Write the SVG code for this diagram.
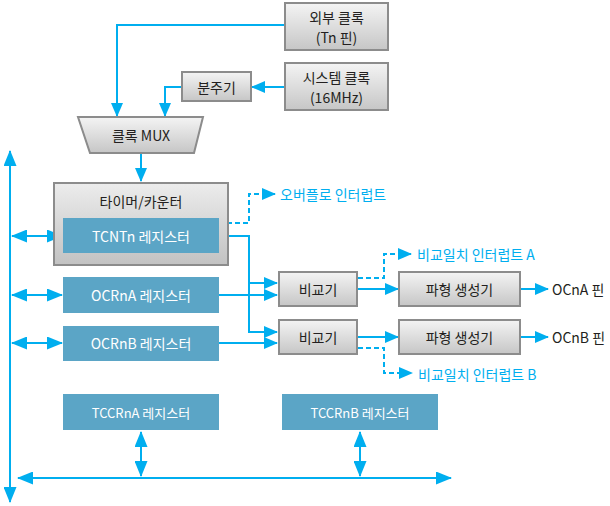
<svg xmlns="http://www.w3.org/2000/svg" width="610" height="506" viewBox="0 0 610 506">
<defs>
<linearGradient id="gg" x1="0" y1="0" x2="0" y2="1">
<stop offset="0" stop-color="#f4f4f4"/><stop offset="1" stop-color="#c6c6c6"/>
</linearGradient>
<linearGradient id="gt" x1="0" y1="0" x2="0" y2="1">
<stop offset="0" stop-color="#ececec"/><stop offset="1" stop-color="#c2c2c2"/>
</linearGradient>
<marker id="ah" viewBox="0 0 14 12" refX="13" refY="6" markerWidth="14" markerHeight="12" markerUnits="userSpaceOnUse" orient="auto-start-reverse">
<path d="M0,0 L14,6 L0,12 Z" fill="#00aeef"/>
</marker>
<marker id="ahb" viewBox="0 0 16 13" refX="15" refY="6.5" markerWidth="16" markerHeight="13" markerUnits="userSpaceOnUse" orient="auto-start-reverse">
<path d="M0,0 L16,6.5 L0,13 Z" fill="#00aeef"/>
</marker>
</defs>
<style>
text{font-family:"Noto Sans CJK KR","Noto Sans",sans-serif;font-size:14px;fill:#231f20;dominant-baseline:central}
.c{text-anchor:middle}
.w{fill:#ffffff}
.b{fill:#00aeef}
.s{font-size:13px}
.gray{fill:url(#gg);stroke:#8c8c8c;stroke-width:2}
.reg{fill:#5ba5c6}
.ln{fill:none;stroke:#00aeef;stroke-width:2}
.d{stroke-dasharray:5,3}
</style>

<g id="connectors">
<path class="ln" d="M285,25 H117 V116" marker-end="url(#ah)"/>
<path class="ln" d="M182,87 H165 V116" marker-end="url(#ah)"/>
<path class="ln" d="M285,87 H252" marker-end="url(#ah)"/>
<path class="ln" d="M141,153 V181" marker-end="url(#ah)"/>
<path class="ln" d="M10,151 V502" marker-start="url(#ahb)" marker-end="url(#ahb)"/>
<path class="ln" d="M18,478 H451" marker-start="url(#ahb)" marker-end="url(#ahb)"/>
<path class="ln" d="M12,236 H62" marker-start="url(#ahb)" marker-end="url(#ahb)"/>
<path class="ln" d="M12,295 H62" marker-start="url(#ahb)" marker-end="url(#ahb)"/>
<path class="ln" d="M12,343 H62" marker-start="url(#ahb)" marker-end="url(#ahb)"/>
<path class="ln" d="M141,432 V476" marker-start="url(#ahb)" marker-end="url(#ahb)"/>
<path class="ln" d="M360,432 V476" marker-start="url(#ahb)" marker-end="url(#ahb)"/>
<path class="ln" d="M219,236 H249 V332 H277" marker-end="url(#ah)"/>
<path class="ln" d="M249,283 H277" marker-end="url(#ah)"/>
<path class="ln" d="M219,295 H277" marker-end="url(#ah)"/>
<path class="ln" d="M219,343 H277" marker-end="url(#ah)"/>
<path class="ln" d="M358,289 H398" marker-end="url(#ah)"/>
<path class="ln" d="M358,337 H398" marker-end="url(#ah)"/>
<path class="ln" d="M521,289 H548" marker-end="url(#ah)"/>
<path class="ln" d="M521,337 H548" marker-end="url(#ah)"/>
<path class="ln d" d="M219,223 H249 V194 H275" marker-end="url(#ah)"/>
<path class="ln d" d="M358,278 H384 V254 H411" marker-end="url(#ah)"/>
<path class="ln d" d="M358,348 H384 V373 H412" marker-end="url(#ah)"/>
</g>

<g id="ext-clock"><rect class="gray" x="285" y="3" width="103" height="47"/><text class="c" x="336.5" y="17">외부 클록</text><text class="c" x="336.5" y="37">(Tn 핀)</text></g>
<g id="sys-clock"><rect class="gray" x="285" y="63" width="103" height="47"/><text class="c" x="336.5" y="77">시스템 클록</text><text class="c" x="336.5" y="97">(16MHz)</text></g>
<g id="prescaler"><rect class="gray" x="182" y="72" width="69" height="29"/><text class="c" x="216.5" y="86.5">분주기</text></g>
<g id="mux"><path class="gray" d="M78,117 H203 L194,153 H90 Z"/><text class="c" x="141" y="135">클록 MUX</text></g>
<g id="timer"><rect x="54" y="183" width="174" height="82" style="fill:url(#gt);stroke:#8c8c8c;stroke-width:2"/><text class="c" x="141" y="201">타이머/카운터</text></g>
<g id="tcnt"><rect class="reg" x="63" y="218" width="156" height="35"/><text class="c w" x="141" y="236">TCNTn 레지스터</text></g>
<g id="ocra"><rect class="reg" x="63" y="277" width="156" height="36"/><text class="c w" x="141" y="295">OCRnA 레지스터</text></g>
<g id="ocrb"><rect class="reg" x="63" y="326" width="156" height="35"/><text class="c w" x="141" y="343">OCRnB 레지스터</text></g>
<g id="tccra"><rect class="reg" x="63" y="394" width="156" height="36"/><text class="c w s" x="141" y="412">TCCRnA 레지스터</text></g>
<g id="tccrb"><rect class="reg" x="282" y="394" width="156" height="36"/><text class="c w s" x="360" y="412">TCCRnB 레지스터</text></g>
<g id="cmpA"><rect class="gray" x="279" y="272" width="78" height="34"/><text class="c" x="318" y="289">비교기</text></g>
<g id="cmpB"><rect class="gray" x="279" y="320" width="78" height="34"/><text class="c" x="318" y="337">비교기</text></g>
<g id="wgA"><rect class="gray" x="399" y="272" width="121" height="34"/><text class="c" x="459.5" y="289">파형 생성기</text></g>
<g id="wgB"><rect class="gray" x="399" y="320" width="121" height="34"/><text class="c" x="459.5" y="337">파형 생성기</text></g>
<g id="pinA"><text x="552" y="289">OCnA 핀</text></g>
<g id="pinB"><text x="552" y="337">OCnB 핀</text></g>
<g id="ovf"><text class="b" x="280" y="194">오버플로 인터럽트</text></g>
<g id="intA"><text class="b" x="417" y="254">비교일치 인터럽트 A</text></g>
<g id="intB"><text class="b" x="418" y="374">비교일치 인터럽트 B</text></g>
</svg>
